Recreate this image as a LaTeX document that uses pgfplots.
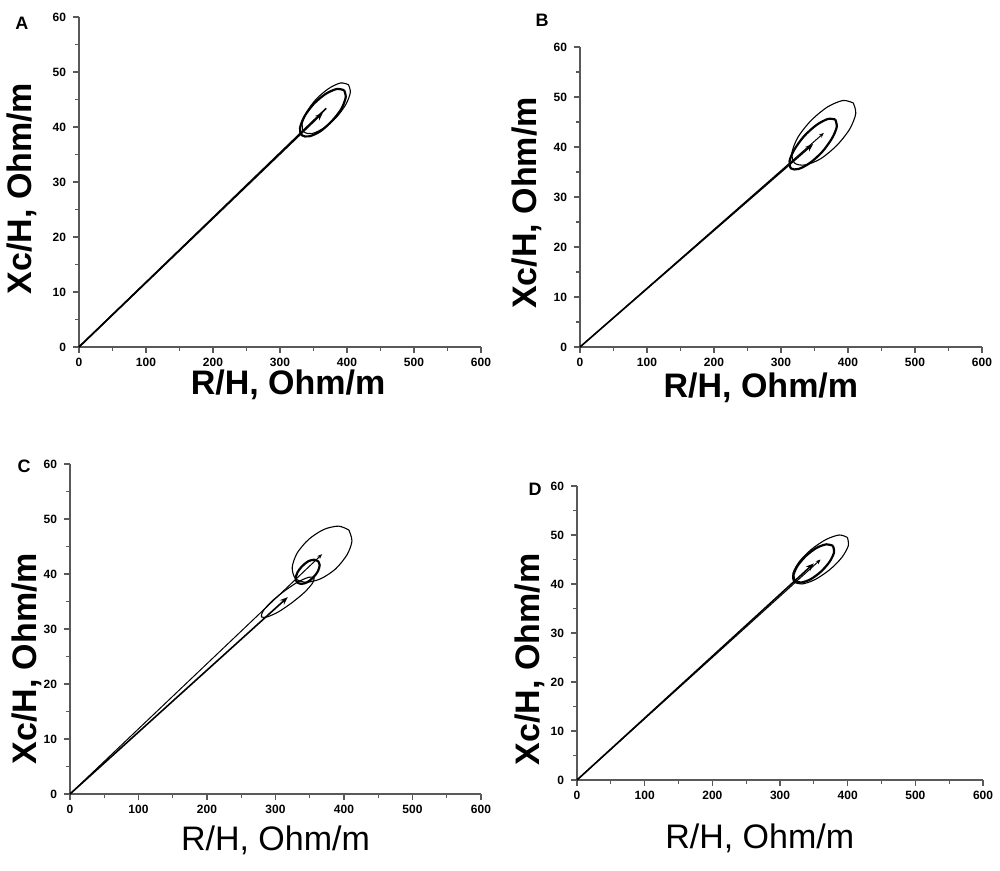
\documentclass[border=0pt]{standalone}
\usepackage{pgfplots}
\pgfplotsset{compat=1.18}
\usepackage{fontspec}
\setmainfont{Liberation Sans}
\usetikzlibrary{arrows.meta}

% Common look of the four RXc panels
\pgfplotsset{
  rxc/.style={
    scale only axis,
    anchor=south west,
    clip=false,
    xmin=0, xmax=600, ymin=0, ymax=60,
    axis x line*=bottom, axis y line*=left,
    xtick={0,100,...,600}, ytick={0,10,...,60},
    minor x tick num=1, minor y tick num=1,
    tick align=outside,
    major tick length=3pt, minor tick length=2pt,
    axis line style={black!65, line width=0.7pt},
    tick style={black!65, line width=0.6pt},
    /pgf/number format/assume math mode=true,
    tick label style={font=\bfseries\fontsize{6}{7}\selectfont},
    xticklabel style={yshift=1pt},
    xlabel={R/H, Ohm/m}, ylabel={Xc/H, Ohm/m},
    label style={font=\bfseries\fontsize{17}{19}\selectfont},
    ylabel style={rotate=0, anchor=center},
    xlabel style={anchor=center},
  },
  vec/.style={line width=0.8pt, -{Stealth[length=4pt,width=3pt]}},
  thinvec/.style={line width=0.5pt, -{Stealth[length=2.5pt,width=2pt]}},
  ell/.style={smooth, line width=0.55pt},
  thickell/.style={smooth, line width=1.1pt},
}

\begin{document}
\begin{tikzpicture}
\useasboundingbox (0,0) rectangle (500pt,435.5pt);

% ---------------- A ----------------
\begin{axis}[rxc, at={(39.5pt,262pt)}, width=201pt, height=165pt,
  xlabel style={at={(axis description cs:0.52,-0.115)}},
  ylabel style={at={(axis description cs:-0.142,0.48)}}]
\addplot[vec] coordinates {(0,0) (364,42.6)};
\addplot[line width=0.8pt] coordinates {(0,0) (369,43.4)};
\addplot[thickell] coordinates {(395.6,46.7) (384.5,46.9) (368.0,46.0) (350.4,44.2) (336.4,41.9) (329.9,39.8) (332.5,38.5) (343.5,38.3) (360.0,39.2) (377.6,41.1) (391.6,43.3) (398.1,45.4) (395.6,46.7)};
\addplot[ell] coordinates {(402.1,47.7) (390.3,48.0) (372.8,47.0) (354.3,45.1) (339.7,42.7) (333.0,40.5) (335.9,39.1) (347.7,38.8) (365.2,39.8) (383.7,41.7) (398.3,44.1) (405.0,46.3) (402.1,47.7)};
\end{axis}

% ---------------- B ----------------
\begin{axis}[rxc, at={(290pt,262pt)}, width=201pt, height=150pt,
  xlabel style={at={(axis description cs:0.45,-0.135)}},
  ylabel style={at={(axis description cs:-0.132,0.48)}}]
\addplot[thinvec] coordinates {(0,0) (364,42.8)};
\addplot[vec] coordinates {(0,0) (348,40.6)};
\addplot[ell] coordinates {(407.9,48.8) (392.5,49.3) (369.4,48.0) (344.9,45.3) (325.5,42.0) (316.4,38.9) (320.1,36.8) (335.5,36.4) (358.6,37.6) (383.2,40.3) (402.6,43.6) (411.6,46.7) (407.9,48.8)};
\addplot[thickell] coordinates {(381.0,45.5) (369.9,45.6) (353.0,44.4) (334.7,42.2) (320.0,39.5) (312.8,37.2) (315.1,35.7) (326.1,35.6) (343.1,36.8) (361.3,39.0) (376.0,41.7) (383.2,44.0) (381.0,45.5)};
\end{axis}

% ---------------- C ----------------
\begin{axis}[rxc, at={(35pt,38.5pt)}, width=205.5pt, height=165pt,
  xlabel style={at={(axis description cs:0.5,-0.14)}, font=\fontsize{17}{19}\selectfont},
  ylabel style={at={(axis description cs:-0.105,0.41)}}]
\addplot[thinvec] coordinates {(0,0) (368,43.6)};
\addplot[vec] coordinates {(0,0) (318,35.8)};
\addplot[ell] coordinates {(407.1,48.0) (392.1,48.7) (370.6,48.1) (348.5,46.3) (331.6,43.8) (324.4,41.2) (329.0,39.2) (344.0,38.5) (365.4,39.1) (387.5,40.9) (404.4,43.5) (411.6,46.0) (407.1,48.0)};
\addplot[thickell] coordinates {(362.5,42.3) (356.3,42.6) (347.6,42.3) (338.7,41.4) (332.1,40.3) (329.5,39.2) (331.5,38.5) (337.7,38.2) (346.4,38.5) (355.3,39.4) (361.9,40.5) (364.5,41.6) (362.5,42.3)};
\addplot[ell] coordinates {(356.5,39.4) (348.3,39.4) (331.9,38.5) (311.9,36.8) (293.4,34.9) (281.6,33.2) (279.5,32.2) (287.8,32.2) (304.1,33.1) (324.2,34.8) (342.6,36.7) (354.4,38.4) (356.5,39.4)};
\end{axis}

% ---------------- D ----------------
\begin{axis}[rxc, at={(288.5pt,45.5pt)}, width=203pt, height=147pt,
  xlabel style={at={(axis description cs:0.45,-0.2)}, font=\fontsize{17}{19}\selectfont},
  ylabel style={at={(axis description cs:-0.116,0.41)}}]
\addplot[thinvec] coordinates {(0,0) (360,45.0)};
\addplot[vec] coordinates {(0,0) (350,44.2)};
\addplot[ell] coordinates {(399.6,49.5) (387.6,50.0) (368.3,49.1) (346.7,47.1) (328.7,44.6) (319.1,42.2) (320.4,40.5) (332.4,40.0) (351.7,40.9) (373.3,42.9) (391.3,45.4) (400.9,47.8) (399.6,49.5)};
\addplot[thickell] coordinates {(378.1,47.8) (368.8,48.1) (354.4,47.4) (338.9,45.8) (326.4,43.8) (320.1,41.9) (321.9,40.7) (331.2,40.3) (345.6,41.0) (361.1,42.6) (373.6,44.6) (379.9,46.5) (378.1,47.8)};
\end{axis}

% panel letters
\node[font=\bfseries\fontsize{9}{10}\selectfont] at (11pt,424pt) {A};
\node[font=\bfseries\fontsize{9}{10}\selectfont] at (271pt,425.5pt) {B};
\node[font=\bfseries\fontsize{9}{10}\selectfont] at (12pt,202.5pt) {C};
\node[font=\bfseries\fontsize{9}{10}\selectfont] at (267.5pt,191pt) {D};
\end{tikzpicture}
\end{document}
